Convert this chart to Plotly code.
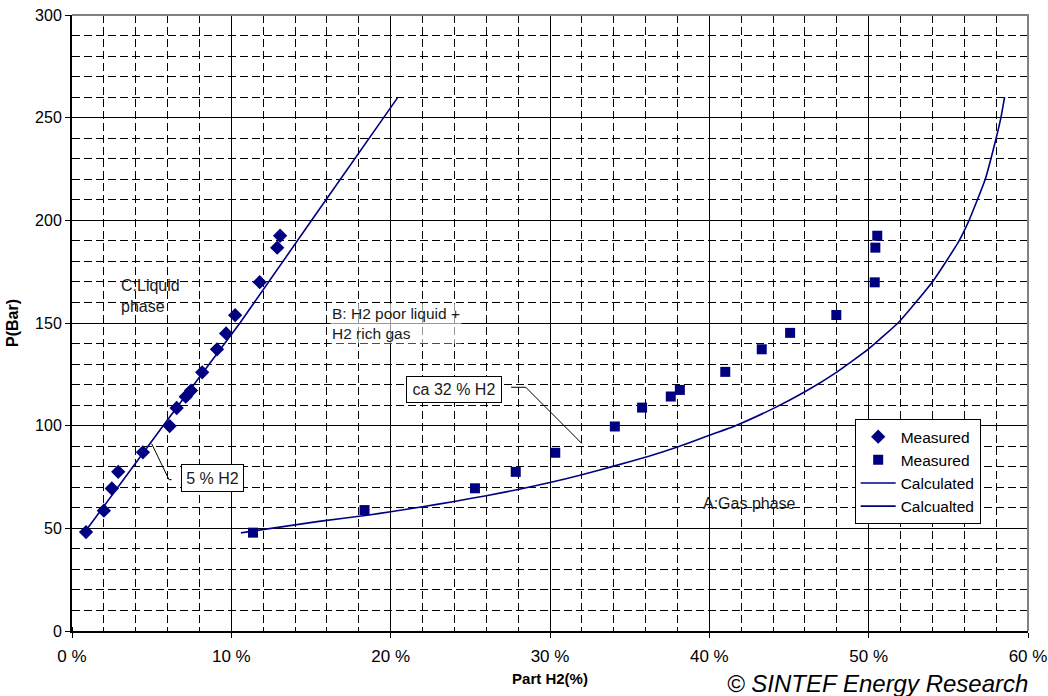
import plotly.graph_objects as go

# Measured liquid-phase composition (diamonds)
liq_x = [0.88, 2.0, 2.5, 2.9, 4.45, 6.13, 6.57, 7.14, 7.47, 8.17, 9.1, 9.67, 10.24, 11.78, 12.88, 13.06]
liq_p = [48.2, 58.6, 69.4, 77.5, 87.0, 99.8, 108.6, 114.1, 117.1, 126.0, 137.2, 144.9, 153.8, 169.9, 186.7, 192.5]

# Measured gas-phase composition (squares)
gas_x = [11.36, 18.36, 25.29, 27.85, 30.33, 34.07, 35.78, 37.58, 38.15, 41.0, 43.29, 45.07, 47.97, 50.38, 50.42, 50.54]
gas_p = [47.9, 58.9, 69.5, 77.5, 86.8, 99.6, 108.8, 114.2, 117.4, 126.2, 137.2, 145.2, 153.9, 169.8, 186.7, 192.5]

# Calculated curves
calc_liq_x = [0.7, 0.98, 5.72, 10.54, 15.04, 19.56, 20.46]
calc_liq_p = [47, 50, 100, 150, 200, 250, 260]

calc_gas_x = [10.6, 15.5, 18.64, 20, 22, 24, 26, 28, 30, 32, 34, 36.2, 38, 40, 41.64, 44, 46, 48, 50,
              51.9, 54.0, 55.6, 56.3, 57.3, 58.0, 58.3, 58.53]
calc_gas_p = [47.8, 53.4, 56.5, 58.1, 60.5, 63.1, 65.9, 68.9, 72.3, 76.1, 80.3, 85.1, 89.6, 95.3, 100,
              108.3, 116.5, 126.1, 137.4, 150.5, 170, 189, 200, 219.6, 240, 250, 260]

x_ticks = [0, 10, 20, 30, 40, 50, 60]
x_ticktext = [f"{v} %" for v in x_ticks]
y_ticks = [0, 50, 100, 150, 200, 250, 300]

NAVY = "#000080"
FONT = "Liberation Sans, Arial, sans-serif"

fig = go.Figure()
fig.add_trace(go.Scatter(x=liq_x, y=liq_p, mode="markers", name="Measured",
                         marker=dict(symbol="diamond", size=11, color=NAVY)))
fig.add_trace(go.Scatter(x=gas_x, y=gas_p, mode="markers", name="Measured",
                         marker=dict(symbol="square", size=10, color=NAVY)))
fig.add_trace(go.Scatter(x=calc_liq_x, y=calc_liq_p, mode="lines", name="Calculated",
                         line=dict(color=NAVY, width=1.6)))
fig.add_trace(go.Scatter(x=calc_gas_x, y=calc_gas_p, mode="lines", name="Calcualted",
                         line=dict(color=NAVY, width=1.6, shape="spline", smoothing=0.4)))

ann_font = dict(family=FONT, size=16, color="#1a1a1a")
annotations = [
    dict(x=2.92, y=163, xref="x", yref="y", text="C:Liquid<br>phase", showarrow=False,
         xanchor="left", yanchor="middle", align="left", font=ann_font),
    dict(x=16.2, y=150, xref="x", yref="y", text="B: H2 poor liquid +<br>H2 rich gas",
         showarrow=False, xanchor="left", yanchor="middle", align="left",
         font=dict(family=FONT, size=15.5, color="#1a1a1a"),
         bgcolor="rgba(255,255,255,0.6)"),
    dict(x=23.98, y=117.5, xref="x", yref="y", text="ca 32 % H2", showarrow=False,
         font=ann_font, bgcolor="white", bordercolor="black", borderwidth=1, borderpad=3,
         width=88, height=19),
    dict(x=8.79, y=74.4, xref="x", yref="y", text="5 % H2", showarrow=False,
         font=ann_font, bgcolor="white", bordercolor="black", borderwidth=1, borderpad=3,
         width=55, height=20),
    dict(x=42.5, y=61.9, xref="x", yref="y", text="A:Gas phase", showarrow=False,
         font=ann_font),
    dict(x=1.002, y=-0.086, xref="paper", yref="paper", text="© SINTEF Energy Research",
         showarrow=False, xanchor="right", yanchor="middle",
         font=dict(family=FONT, size=24, color="black", style="italic")),
]

shapes = [
    dict(type="path", xref="x", yref="y",
         path="M 27.56 118.7 L 28.48 118.7 L 32.0 91.3",
         line=dict(color="black", width=1)),
    dict(type="path", xref="x", yref="y",
         path="M 5.0 91.2 L 6.09 73.7 L 6.25 73.7",
         line=dict(color="black", width=1)),
    dict(type="path", xref="paper", yref="paper", path="M 0 1 L 1 1 L 1 0",
         line=dict(color="#808080", width=2), layer="above"),
]

fig.update_layout(
    width=1048, height=696,
    margin=dict(l=72, r=20, t=15, b=65, pad=0),
    paper_bgcolor="white", plot_bgcolor="white",
    font=dict(family=FONT, size=16, color="black"),
    showlegend=True,
    legend=dict(x=0.8187, y=0.344, xanchor="left", yanchor="top",
                bgcolor="white", bordercolor="black", borderwidth=1,
                font=dict(family=FONT, size=15.5, color="black"),
                tracegroupgap=0, itemwidth=35),
    annotations=annotations,
    shapes=shapes,
)

fig.update_xaxes(
    range=[0, 60], tickvals=x_ticks, ticktext=x_ticktext,
    showgrid=True, gridcolor="black", gridwidth=1,
    minor=dict(dtick=2, showgrid=True, gridcolor="black", griddash="8px,4px", gridwidth=1,
               ticks="inside", ticklen=4, tickcolor="black"),
    showline=True, linecolor="black", linewidth=2,
    ticks="outside", ticklen=5, tickcolor="black",
    tickfont=dict(family=FONT, size=17, color="black"),
    ticklabelstandoff=4,
    title=dict(text="<b>Part H2(%)</b>", font=dict(family=FONT, size=15, color="black"), standoff=8),
    zeroline=False, automargin=False,
)
fig.update_yaxes(
    range=[0, 300], tickvals=y_ticks,
    showgrid=True, gridcolor="black", gridwidth=1,
    minor=dict(dtick=10, showgrid=True, gridcolor="black", griddash="8px,4px", gridwidth=1),
    showline=True, linecolor="black", linewidth=2,
    ticks="outside", ticklen=5, tickcolor="black",
    tickfont=dict(family=FONT, size=16, color="black"),
    title=dict(text="<b>P(Bar)</b>", font=dict(family=FONT, size=16, color="black"), standoff=12),
    zeroline=False, automargin=False,
)

fig.write_html("out.html", config={"displayModeBar": False},
               post_script="document.body.style.margin='0px';document.body.style.overflow='hidden';")
